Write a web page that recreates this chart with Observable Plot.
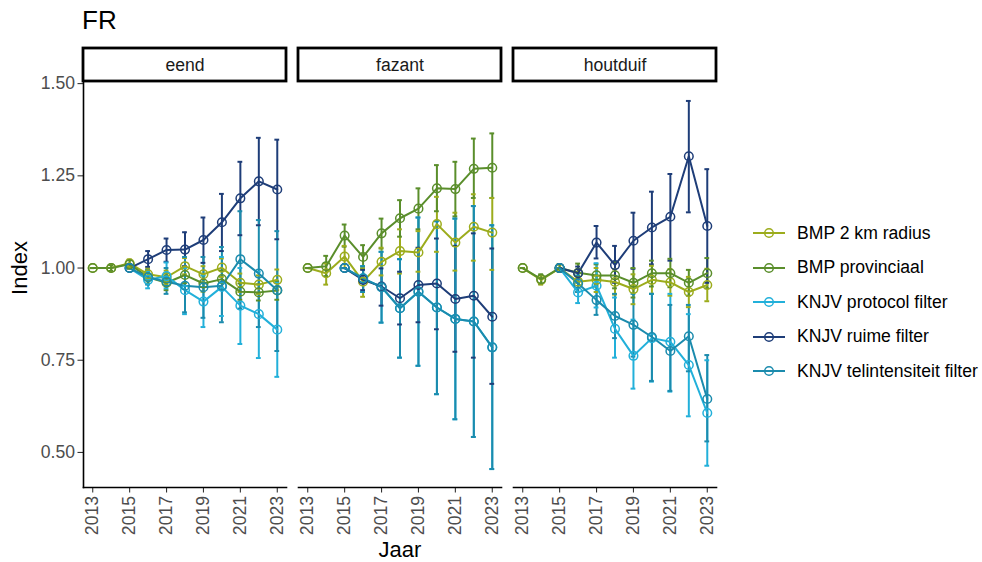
<!DOCTYPE html>
<html>
<head>
<meta charset="utf-8">
<script src="https://cdn.jsdelivr.net/npm/d3@7"></script>
<script src="https://cdn.jsdelivr.net/npm/@observablehq/plot@0.6"></script>
<style>
  html, body { margin: 0; padding: 0; background: #fff; }
  #wrap { position: relative; width: 982px; height: 562px; font-family: "Liberation Sans", Arial, sans-serif; overflow: hidden; }
  #title { position: absolute; left: 82px; top: 7px; font-size: 26px; line-height: 26px; color: #000; }
  #ylab { position: absolute; left: 20px; top: 268px; transform: translate(-50%, -50%) rotate(-90deg); font-size: 22px; line-height: 22px; color: #000; white-space: nowrap; }
  #xlab { position: absolute; left: 400px; top: 550px; transform: translate(-50%, -50%); font-size: 22px; line-height: 22px; color: #000; }
  #legend { position: absolute; left: 753px; top: 216px; }
  .item { display: flex; align-items: center; height: 34.5px; font-size: 17.6px; color: #000; white-space: nowrap; }
  .item svg { margin-right: 12px; }
</style>
</head>
<body>
<div id="wrap">
  <div id="chart"></div>
  <div id="title">FR</div>
  <div id="ylab">Index</div>
  <div id="xlab">Jaar</div>
  <div id="legend"></div>
</div>
<script>
// ---------- data ----------
const years = [2013, 2014, 2015, 2016, 2017, 2018, 2019, 2020, 2021, 2022, 2023];
const species = ["eend", "fazant", "houtduif"];
const seriesNames = ["BMP 2 km radius", "BMP provinciaal", "KNJV protocol filter", "KNJV ruime filter", "KNJV telintensiteit filter"];
const seriesColors = ["#9cac1c", "#5a8e2b", "#22b0da", "#1e3d78", "#1b8bad"];
const yTicks = [0.50, 0.75, 1.00, 1.25, 1.50];
const xTicks = [2013, 2015, 2017, 2019, 2021, 2023];

// eend
const eendBmp2km   = [1.000, 1.000, 1.013, 0.983, 0.975, 1.005, 0.983, 1.001, 0.960, 0.955, 0.968];
const eendBmp2kmLo = [1.000, 0.992, 1.003, 0.968, 0.957, 0.983, 0.961, 0.976, 0.935, 0.930, 0.940];
const eendBmp2kmHi = [1.000, 1.008, 1.023, 0.998, 0.993, 1.027, 1.005, 1.026, 0.985, 0.980, 0.996];
const eendBmpProv   = [1.000, 1.000, 1.010, 0.975, 0.960, 0.981, 0.958, 0.970, 0.936, 0.934, 0.939];
const eendBmpProvLo = [1.000, 0.992, 0.998, 0.958, 0.940, 0.959, 0.936, 0.947, 0.914, 0.912, 0.914];
const eendBmpProvHi = [1.000, 1.008, 1.022, 0.992, 0.980, 1.003, 0.980, 0.993, 0.958, 0.956, 0.964];
const eendProtocol   = [null, null, 1.000, 0.968, 0.978, 0.940, 0.909, 0.949, 0.898, 0.875, 0.833];
const eendProtocolLo = [null, null, 1.000, 0.945, 0.945, 0.875, 0.840, 0.870, 0.794, 0.756, 0.705];
const eendProtocolHi = [null, null, 1.000, 0.990, 1.015, 1.000, 0.980, 1.030, 1.000, 0.990, 0.960];
const eendRuime   = [null, null, 1.000, 1.024, 1.049, 1.050, 1.076, 1.124, 1.189, 1.235, 1.213];
const eendRuimeLo = [null, null, 1.000, 1.003, 1.017, 1.005, 1.014, 1.046, 1.089, 1.116, 1.078];
const eendRuimeHi = [null, null, 1.000, 1.046, 1.080, 1.097, 1.137, 1.201, 1.288, 1.353, 1.348];
const eendTel   = [null, null, 1.000, 0.975, 0.963, 0.952, 0.948, 0.952, 1.024, 0.985, 0.940];
const eendTelLo = [null, null, 1.000, 0.955, 0.930, 0.880, 0.865, 0.853, 0.890, 0.840, 0.775];
const eendTelHi = [null, null, 1.000, 0.995, 1.000, 1.030, 1.030, 1.057, 1.154, 1.130, 1.100];

// fazant
const fazantBmp2km   = [1.000, 0.986, 1.031, 0.963, 1.017, 1.046, 1.042, 1.119, 1.069, 1.112, 1.096];
const fazantBmp2kmLo = [1.000, 0.955, 1.000, 0.922, 0.980, 0.985, 0.990, 1.044, 0.993, 1.020, 0.995];
const fazantBmp2kmHi = [1.000, 1.012, 1.060, 1.000, 1.055, 1.105, 1.100, 1.193, 1.150, 1.200, 1.190];
const fazantBmpProv   = [1.000, 1.005, 1.088, 1.030, 1.094, 1.135, 1.161, 1.216, 1.214, 1.269, 1.272];
const fazantBmpProvLo = [1.000, 0.978, 1.058, 0.998, 1.053, 1.085, 1.105, 1.154, 1.140, 1.190, 1.190];
const fazantBmpProvHi = [1.000, 1.033, 1.118, 1.062, 1.134, 1.184, 1.216, 1.279, 1.288, 1.351, 1.365];
const fazantProtocol   = [null, null, 1.000, 0.972, 0.948, 0.891, 0.936, 0.893, 0.862, 0.855, 0.785];
const fazantProtocolLo = [null, null, 1.000, 0.935, 0.852, 0.757, 0.735, 0.658, 0.590, 0.542, 0.455];
const fazantProtocolHi = [null, null, 1.000, 1.005, 1.044, 1.024, 1.137, 1.127, 1.134, 1.168, 1.116];
const fazantRuime   = [null, null, 1.000, 0.968, 0.950, 0.918, 0.954, 0.958, 0.916, 0.925, 0.868];
const fazantRuimeLo = [null, null, 1.000, 0.940, 0.898, 0.847, 0.853, 0.834, 0.773, 0.757, 0.686];
const fazantRuimeHi = [null, null, 1.000, 0.995, 0.999, 0.990, 1.055, 1.080, 1.060, 1.094, 1.053];
const fazantTel   = [null, null, 1.000, 0.972, 0.948, 0.891, 0.936, 0.893, 0.862, 0.855, 0.785];
const fazantTelLo = [null, null, 1.000, 0.935, 0.852, 0.757, 0.735, 0.658, 0.590, 0.542, 0.455];
const fazantTelHi = [null, null, 1.000, 1.005, 1.044, 1.024, 1.137, 1.127, 1.134, 1.168, 1.116];

// houtduif
const houtduifBmp2km   = [1.000, 0.968, 1.000, 0.963, 0.968, 0.962, 0.943, 0.968, 0.961, 0.935, 0.954];
const houtduifBmp2kmLo = [1.000, 0.955, 0.990, 0.935, 0.935, 0.928, 0.902, 0.930, 0.925, 0.894, 0.910];
const houtduifBmp2kmHi = [1.000, 0.981, 1.010, 0.990, 1.000, 0.996, 0.983, 1.006, 0.997, 0.976, 0.998];
const houtduifBmpProv   = [1.000, 0.970, 1.000, 0.987, 0.980, 0.980, 0.960, 0.986, 0.986, 0.960, 0.986];
const houtduifBmpProvLo = [1.000, 0.957, 0.990, 0.960, 0.950, 0.945, 0.920, 0.950, 0.948, 0.925, 0.945];
const houtduifBmpProvHi = [1.000, 0.983, 1.010, 1.012, 1.010, 1.016, 1.000, 1.020, 1.025, 0.995, 1.027];
const houtduifProtocol   = [null, null, 1.000, 0.934, 0.952, 0.835, 0.762, 0.810, 0.800, 0.737, 0.607];
const houtduifProtocolLo = [null, null, 1.000, 0.905, 0.893, 0.757, 0.673, 0.692, 0.665, 0.598, 0.464];
const houtduifProtocolHi = [null, null, 1.000, 0.963, 1.013, 0.920, 0.860, 0.930, 0.930, 0.875, 0.750];
const houtduifRuime   = [null, null, 1.000, 0.986, 1.069, 1.008, 1.074, 1.110, 1.139, 1.303, 1.114];
const houtduifRuimeLo = [null, null, 1.000, 0.970, 1.026, 0.960, 0.998, 1.010, 1.020, 1.151, 0.960];
const houtduifRuimeHi = [null, null, 1.000, 1.004, 1.114, 1.060, 1.150, 1.207, 1.255, 1.453, 1.268];
const houtduifTel   = [null, null, 1.000, 0.958, 0.913, 0.870, 0.846, 0.813, 0.775, 0.815, 0.645];
const houtduifTelLo = [null, null, 1.000, 0.935, 0.873, 0.810, 0.760, 0.694, 0.667, 0.720, 0.530];
const houtduifTelHi = [null, null, 1.000, 0.980, 0.955, 0.930, 0.930, 0.930, 0.900, 0.900, 0.764];

// ---------- build table ----------
const sources = {
  eend: [[eendBmp2km, eendBmp2kmLo, eendBmp2kmHi], [eendBmpProv, eendBmpProvLo, eendBmpProvHi],
         [eendProtocol, eendProtocolLo, eendProtocolHi], [eendRuime, eendRuimeLo, eendRuimeHi], [eendTel, eendTelLo, eendTelHi]],
  fazant: [[fazantBmp2km, fazantBmp2kmLo, fazantBmp2kmHi], [fazantBmpProv, fazantBmpProvLo, fazantBmpProvHi],
         [fazantProtocol, fazantProtocolLo, fazantProtocolHi], [fazantRuime, fazantRuimeLo, fazantRuimeHi], [fazantTel, fazantTelLo, fazantTelHi]],
  houtduif: [[houtduifBmp2km, houtduifBmp2kmLo, houtduifBmp2kmHi], [houtduifBmpProv, houtduifBmpProvLo, houtduifBmpProvHi],
         [houtduifProtocol, houtduifProtocolLo, houtduifProtocolHi], [houtduifRuime, houtduifRuimeLo, houtduifRuimeHi], [houtduifTel, houtduifTelLo, houtduifTelHi]]
};
const table = [];
for (const sp of species) {
  sources[sp].forEach(([v, lo, hi], si) => {
    years.forEach((yr, i) => {
      if (v[i] == null) return;
      table.push({sp, series: seriesNames[si], year: yr, value: v[i], lo: lo[i], hi: hi[i]});
    });
  });
}

// ---------- layout ----------
const W = 982, H = 562;
const mTop = 82, mBottom = 75, mLeft = 82, mRight = 264;
const innerH = H - mTop - mBottom;
const capHalf = 0.13;

const chart = Plot.plot({
  width: W, height: H,
  marginTop: mTop, marginBottom: mBottom, marginLeft: mLeft, marginRight: mRight,
  style: {fontFamily: "'Liberation Sans', Arial, sans-serif", fontSize: "17.6px", background: "white", color: "#000"},
  fx: {domain: species, paddingInner: 0.055, paddingOuter: 0, axis: null, label: null},
  x: {domain: [2012.5, 2023.5], label: null},
  y: {domain: [0.405, 1.503], label: null},
  color: {domain: seriesNames, range: seriesColors},
  marks: [
    Plot.axisY({ticks: yTicks, tickFormat: d => d.toFixed(2), tickSize: 5.5, tickPadding: 3, stroke: "#333333", fill: "#4d4d4d", strokeWidth: 1.1, fontSize: 17.6, label: null}),
    Plot.axisX({ticks: xTicks, tickFormat: d => String(d), tickRotate: -90, tickSize: 5.5, tickPadding: 3, stroke: "#333333", fill: "#4d4d4d", strokeWidth: 1.1, fontSize: 17.6, label: null}),
    Plot.frame({anchor: "bottom", stroke: "#000", strokeWidth: 1.6}),
    Plot.frame({anchor: "left", facetAnchor: "left", stroke: "#000", strokeWidth: 1.6}),
    // strip boxes and labels
    Plot.rect(species, {fx: d => d, insetTop: -34, insetBottom: innerH + 1, stroke: "#000", strokeWidth: 2.8, fill: "white"}),
    Plot.text(species, {fx: d => d, text: d => d, frameAnchor: "top", lineAnchor: "middle", dy: -17.5, fontSize: 17.6, fill: "#1a1a1a"}),
    // error bars
    Plot.ruleX(table, {fx: "sp", x: "year", y1: "lo", y2: "hi", stroke: "series", strokeWidth: 2}),
    Plot.ruleY(table, {fx: "sp", y: "lo", x1: d => d.year - capHalf, x2: d => d.year + capHalf, stroke: "series", strokeWidth: 2}),
    Plot.ruleY(table, {fx: "sp", y: "hi", x1: d => d.year - capHalf, x2: d => d.year + capHalf, stroke: "series", strokeWidth: 2}),
    // lines and points
    Plot.line(table, {fx: "sp", x: "year", y: "value", z: "series", stroke: "series", strokeWidth: 2}),
    Plot.dot(table, {fx: "sp", x: "year", y: "value", stroke: "series", r: 4.3, strokeWidth: 1.5, fill: "none"})
  ]
});
document.getElementById("chart").appendChild(chart);

// ---------- legend ----------
const legend = document.getElementById("legend");
seriesNames.forEach((name, i) => {
  const c = seriesColors[i];
  const item = document.createElement("div");
  item.className = "item";
  item.innerHTML = `<svg width="32" height="12"><line x1="0" x2="32" y1="6" y2="6" stroke="${c}" stroke-width="2"/><circle cx="16" cy="6" r="4.3" fill="none" stroke="${c}" stroke-width="1.5"/></svg><span>${name}</span>`;
  legend.appendChild(item);
});
</script>
</body>
</html>
